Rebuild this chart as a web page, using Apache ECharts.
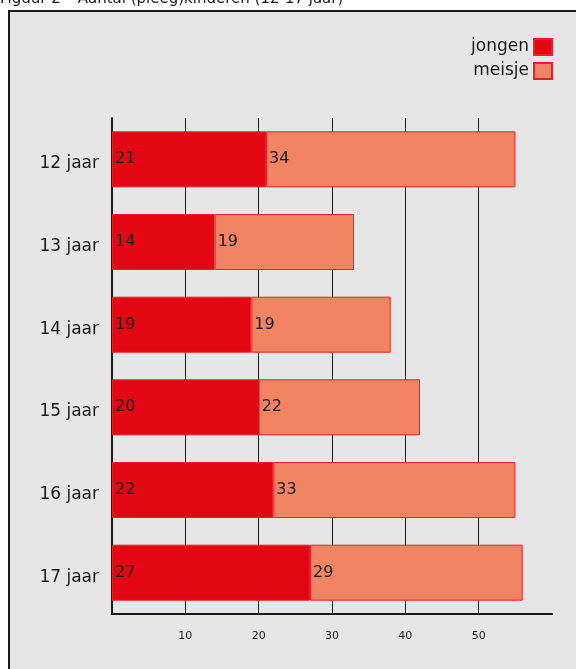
<!DOCTYPE html>
<html>
<head>
<meta charset="utf-8">
<script src="https://cdn.jsdelivr.net/npm/echarts@6/dist/echarts.min.js"></script>
<style>
html,body{margin:0;padding:0;background:#fff;}
#chart{width:576px;height:669px;}
</style>
</head>
<body>
<div id="chart"></div>
<script>
var titleText = 'Figuur 2 – Aantal (pleeg)kinderen (12-17 jaar)';
var categories = ['12 jaar', '13 jaar', '14 jaar', '15 jaar', '16 jaar', '17 jaar'];
var jongen = [21, 14, 19, 20, 22, 27];
var meisje = [34, 19, 19, 22, 33, 29];
var xTickLabels = [10, 20, 30, 40, 50];

var FONT = '"DejaVu Sans", sans-serif';
var chart = echarts.init(document.getElementById('chart'), null, {renderer: 'canvas'});
chart.setOption({
  backgroundColor: '#ffffff',
  animation: false,
  textStyle: {fontFamily: FONT},
  graphic: [
    {type: 'rect', z: -10, shape: {x: 9, y: 11, width: 700, height: 800},
     style: {fill: '#e6e6e6', stroke: '#1a1a1a', lineWidth: 2}},
    {type: 'text', left: 0, top: -8, z: 10,
     style: {text: titleText, fontSize: 15, fontFamily: FONT, fill: '#1a1a1a'}}
  ],
  legend: {
    right: 18, top: 33, orient: 'vertical', align: 'right',
    itemWidth: 18, itemHeight: 16, itemGap: 6,
    icon: 'rect',
    textStyle: {fontSize: 17, color: '#1a1a1a', fontFamily: FONT},
    data: ['jongen', 'meisje']
  },
  grid: {left: 112, right: 24, top: 118, bottom: 55, containLabel: false},
  xAxis: {
    type: 'value', min: 0, max: 60, interval: 10,
    axisLine: {show: true, lineStyle: {color: '#1a1a1a', width: 2}},
    axisTick: {show: false},
    splitLine: {show: true, showMinLine: false, showMaxLine: false, lineStyle: {color: '#1a1a1a', width: 1}},
    axisLabel: {
      fontSize: 11, color: '#1a1a1a', margin: 17, fontFamily: FONT,
      formatter: function (v) { return xTickLabels.indexOf(v) >= 0 ? String(v) : ''; }
    }
  },
  yAxis: {
    type: 'category', data: categories, inverse: true,
    axisLine: {show: true, lineStyle: {color: '#1a1a1a', width: 2}},
    axisTick: {show: false},
    axisLabel: {fontSize: 17, color: '#1a1a1a', margin: 13, verticalAlign: 'top', lineHeight: 9, fontFamily: FONT}
  },
  series: [
    {
      name: 'jongen', type: 'bar', stack: 'total', data: jongen, barWidth: 56,
      itemStyle: {color: '#e30613', borderColor: '#e8202a', borderWidth: 1},
      label: {show: true, position: 'insideLeft', distance: 3, color: '#1a1a1a', fontSize: 16, fontFamily: FONT}
    },
    {
      name: 'meisje', type: 'bar', stack: 'total', data: meisje, barWidth: 56,
      itemStyle: {color: '#f28463', borderColor: '#e8202a', borderWidth: 1},
      label: {show: true, position: 'insideLeft', distance: 3, color: '#1a1a1a', fontSize: 16, fontFamily: FONT}
    }
  ]
});
</script>
</body>
</html>
